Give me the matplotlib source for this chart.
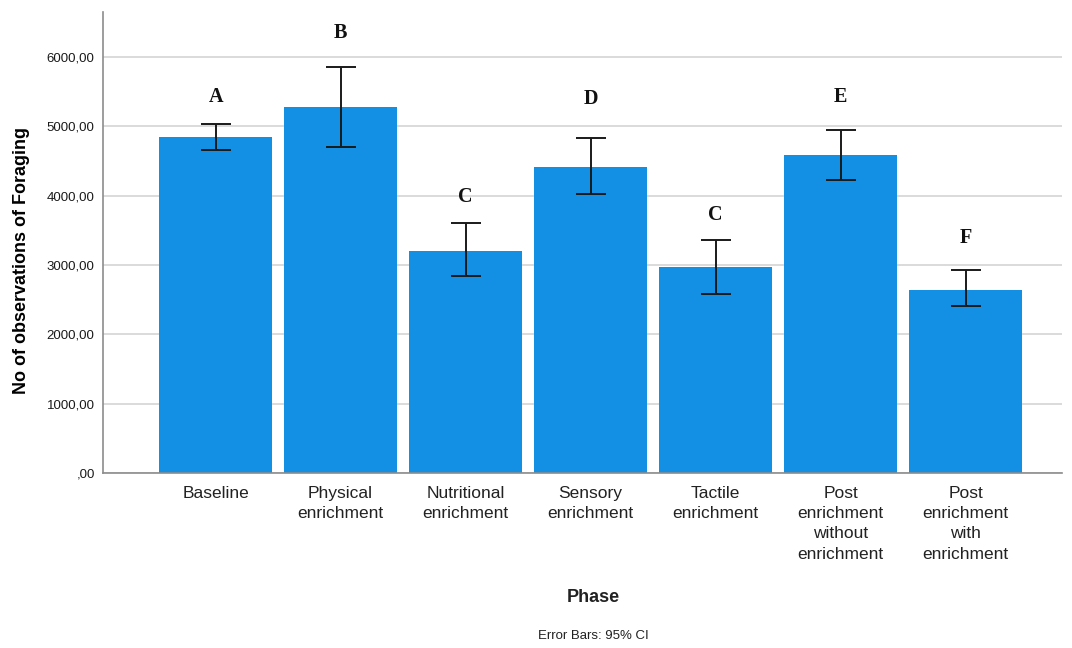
import matplotlib
matplotlib.use("Agg")
import matplotlib.pyplot as plt
from matplotlib.ticker import FuncFormatter

phases = ["Baseline", "Physical\nenrichment", "Nutritional\nenrichment",
          "Sensory\nenrichment", "Tactile\nenrichment",
          "Post\nenrichment\nwithout\nenrichment", "Post\nenrichment\nwith\nenrichment"]
means = [4850, 5280, 3200, 4415, 2970, 4590, 2640]
ci_low = [4660, 4700, 2840, 4025, 2580, 4225, 2410]
ci_high = [5035, 5855, 3605, 4830, 3360, 4945, 2925]
letters = ["A", "B", "C", "D", "C", "E", "F"]
letter_y = [5420, 6345, 3980, 5400, 3720, 5420, 3390]

fig = plt.figure(figsize=(10.72, 6.48), dpi=100)
ax = fig.add_axes([0.0961, 0.270, 0.8946, 0.7115])

x = list(range(len(phases)))
ax.bar(x, means, width=0.9, color="#1390e4", zorder=2)
yerr = [[m - lo for m, lo in zip(means, ci_low)], [hi - m for m, hi in zip(means, ci_high)]]
ax.errorbar(x, means, yerr=yerr, fmt="none", ecolor="#1a1a1a", elinewidth=1.4,
            capsize=11, capthick=1.4, zorder=3)

for xi, lab, ly in zip(x, letters, letter_y):
    ax.text(xi, ly, lab, ha="center", va="center", fontsize=14.5, fontweight="bold",
            family="Liberation Serif", color="#111111")

ax.set_xlim(-0.9, 6.77)
ax.set_ylim(0, 6650)
ax.set_yticks([0, 1000, 2000, 3000, 4000, 5000, 6000])
ax.yaxis.set_major_formatter(FuncFormatter(
    lambda v, p: ",00" if v == 0 else f"{int(v)},00"))
ax.grid(axis="y", color="#d4d4d4", linewidth=1.2, zorder=0)
ax.set_axisbelow(True)

for s in ["top", "right"]:
    ax.spines[s].set_visible(False)
for s in ["left", "bottom"]:
    ax.spines[s].set_color("#8c8c8c")
    ax.spines[s].set_linewidth(1.2)

ax.set_xticks(x)
ax.set_xticklabels(phases, family="Liberation Sans", fontsize=12.5, color="#222222",
                   linespacing=1.45)
ax.tick_params(axis="x", length=0, pad=9)
ax.tick_params(axis="y", length=0, pad=6, labelsize=9.5)
for t in ax.get_yticklabels():
    t.set_family("Liberation Sans")
    t.set_color("#1a1a1a")

ax.set_ylabel("No of observations of Foraging", family="Liberation Sans",
              fontsize=13, fontweight="bold")
ax.yaxis.set_label_coords(-0.0766, 0.462)
fig.text(0.5537, 0.078, "Phase", ha="center", va="center", family="Liberation Sans",
         fontsize=13, fontweight="bold", color="#222222")
fig.text(0.5537, 0.018, "Error Bars: 95% CI", ha="center", va="center",
         family="Liberation Sans", fontsize=9.5, color="#222222")

fig.savefig("out.png", dpi=100, facecolor="white")
